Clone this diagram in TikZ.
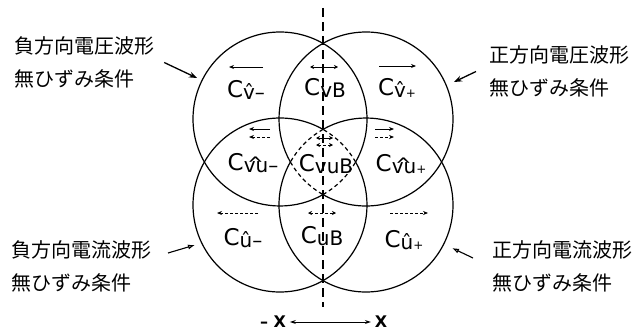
\documentclass[tikz,border=0pt]{standalone}
\usepackage{fontspec}
\setsansfont{DejaVu Sans}
\newfontfamily\jfont{Noto Sans CJK JP}
\usetikzlibrary{arrows.meta}
\newcommand\clab[1]{\textsf{\fontsize{23}{23}\selectfont C\raisebox{-2pt}{\fontsize{20}{20}\selectfont #1}}}
\newcommand\hatvu{v\makebox[0pt]{\raisebox{1pt}{\textasciicircum}}u}
\newcommand\smallplus{{\fontsize{12}{12}\selectfont+}}
\begin{document}
\begin{tikzpicture}[x=1pt,y=1pt,line width=1.2pt,
  note/.style={font=\jfont\fontsize{20}{33}\selectfont,align=left,inner sep=0pt},
  dir/.style={line width=0.9pt,-{Stealth[length=5pt,width=4pt]}},
  dirboth/.style={line width=0.9pt,{Stealth[length=4pt,width=4pt]}-{Stealth[length=4pt,width=4pt]}},
  dashdir/.style={dash pattern=on 3pt off 2pt},
  pointv/.style={line width=1.3pt,-{Stealth[length=8pt,width=6pt]}},
  pointu/.style={line width=1.1pt,-{Latex[open,length=7pt,width=5pt]}},
  axlab/.style={font=\sffamily\bfseries\fontsize{16}{16}\selectfont}]
\useasboundingbox (0,0) rectangle (642,333);
% four circles, the arc inside all others is dashed
\foreach \cx/\cy/\a in {280/214/-60.38, 366/214/209.62, 280/128/29.62, 366/128/119.62}{
  \draw[dash pattern=on 4pt off 3pt] ([shift={(\a:87)}]\cx,\cy) arc[start angle=\a, delta angle=30.76, radius=87];
  \draw ([shift={({\a+30.76}:87)}]\cx,\cy) arc[start angle=\a+30.76, delta angle=329.24, radius=87];
}
\coordinate (axtop) at (323,325);
\coordinate (axbot) at (323,26);
\draw[line width=1.1pt,dash pattern=on 9pt off 5pt] (axtop) -- (axbot);
% region labels
\node (vm) at (246,243) {\clab{\^{v}--}};
\node (vb) at (325,245) {\clab{vB}};
\node (vp) at (397,245) {\clab{\^{v}\smallplus}};
\node (vum) at (253,170) {\clab{\hatvu--}};
\node (vub) at (326,169) {\clab{vuB}};
\node (vup) at (401,169) {\clab{\hatvu\smallplus}};
\node (um) at (243,95) {\clab{\^{u}--}};
\node (ub) at (322,97) {\clab{uB}};
\node (up) at (404,93) {\clab{\^{u}\smallplus}};
% direction marks
\draw[dir] (263,266) -- (229,266);
\draw[dirboth] (310,266) -- (338,266);
\draw[dir] (379,267) -- (416,267);
\draw[dir] (270,204) -- (249,204);
\draw[dir,dashdir] (270,196) -- (249,196);
\draw[dirboth] (316,195) -- (333,195);
\draw[dirboth,dashdir] (316,188) -- (333,188);
\draw[dir] (375,204) -- (394,204);
\draw[dir,dashdir] (375,196) -- (394,196);
\draw[dir,dashdir] (258,120) -- (217,120);
\draw[dirboth,dashdir] (308,120) -- (336,120);
\draw[dir,dashdir] (390,120) -- (428,120);
% notes
\node[note,anchor=west] (nvm) at (14,270.5) {負方向電圧波形\\無ひずみ条件};
\node[note,anchor=west] (nvp) at (489,261.5) {正方向電圧波形\\無ひずみ条件};
\node[note,anchor=west] (num) at (11,67) {負方向電流波形\\無ひずみ条件};
\node[note,anchor=west] (nup) at (492,66.5) {正方向電流波形\\無ひずみ条件};
\coordinate (tvm) at (197,255);
\coordinate (tvp) at (454,251);
\coordinate (tum) at (195,88);
\coordinate (tup) at (452,85);
\draw[pointv] ([xshift=9pt]nvm.east) -- (tvm);
\draw[pointv] ([xshift=-13pt]nvp.west) -- (tvp);
\draw[pointu] (168,80) -- (tum);
\draw[pointu] (473,75) -- (tup);
% x axis
\node[axlab] (negx) at (273,11) {-- X};
\node[axlab] (posx) at (381,11) {X};
\draw[line width=1pt,{Stealth[length=6pt,width=4pt]}-{Stealth[length=6pt,width=4pt]}] (negx) -- (posx);
\end{tikzpicture}
\end{document}
